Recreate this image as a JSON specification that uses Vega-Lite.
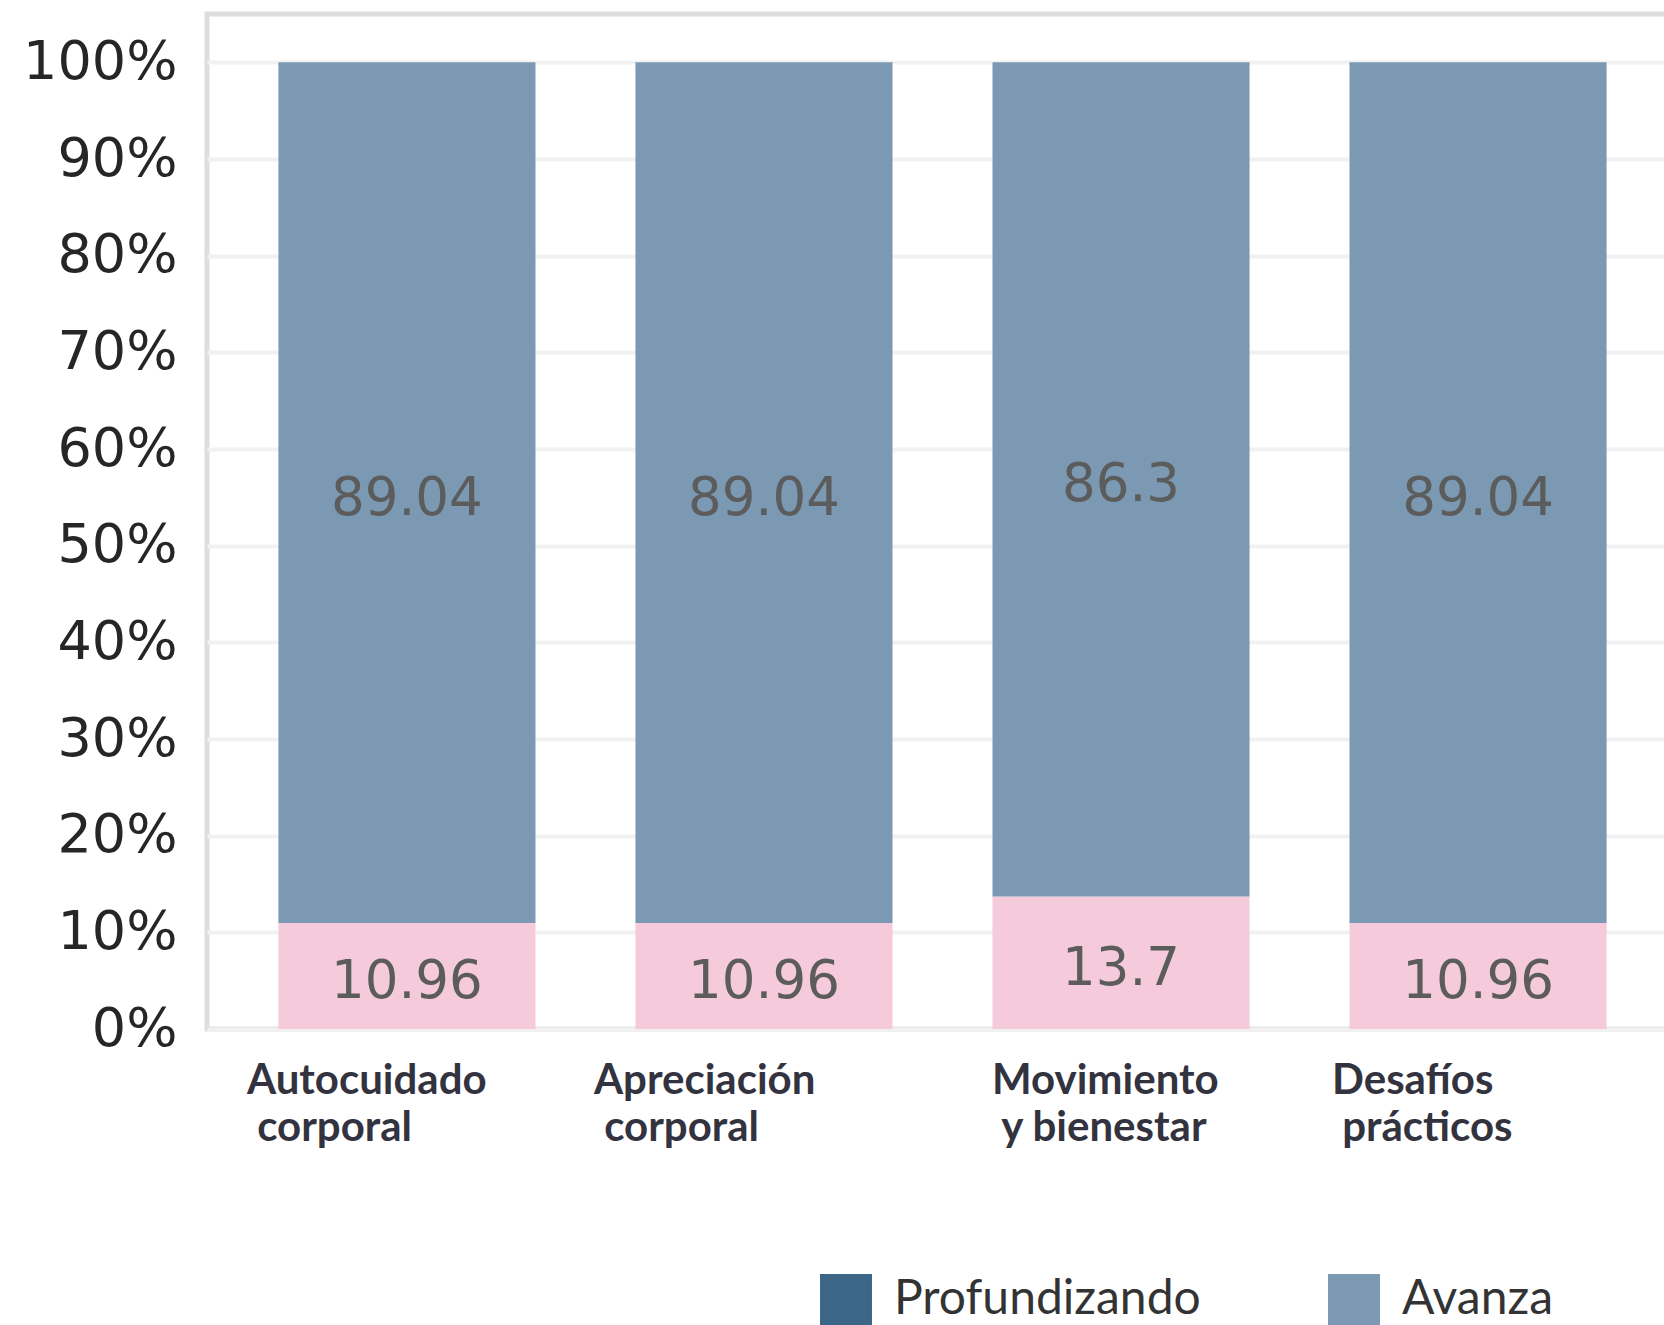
{
  "$schema": "https://vega.github.io/schema/vega-lite/v6.json",
  "width": 1471,
  "height": 1015,
  "padding": {"left": 22, "top": 14, "right": 0, "bottom": 0},
  "background": "white",
  "data": {
    "values": [
      {"categoria": "Autocuidado corporal", "nivel": "Inicia", "valor": 10.96},
      {"categoria": "Autocuidado corporal", "nivel": "Avanza", "valor": 89.04},
      {"categoria": "Apreciación corporal", "nivel": "Inicia", "valor": 10.96},
      {"categoria": "Apreciación corporal", "nivel": "Avanza", "valor": 89.04},
      {"categoria": "Movimiento y bienestar", "nivel": "Inicia", "valor": 13.7},
      {"categoria": "Movimiento y bienestar", "nivel": "Avanza", "valor": 86.3},
      {"categoria": "Desafíos prácticos", "nivel": "Inicia", "valor": 10.96},
      {"categoria": "Desafíos prácticos", "nivel": "Avanza", "valor": 89.04}
    ]
  },
  "transform": [
    {"stack": "valor", "groupby": ["categoria"], "sort": [{"field": "nivel", "order": "descending"}], "as": ["v0", "v1"]},
    {"calculate": "(datum.v0 + datum.v1) / 2", "as": "vm"}
  ],
  "encoding": {
    "x": {
      "field": "categoria",
      "type": "nominal",
      "sort": null,
      "scale": {"paddingInner": 0.28, "paddingOuter": 0.2},
      "axis": {
        "title": null,
        "labelAngle": 0,
        "ticks": false,
        "domain": false,
        "labelFont": "Lato",
        "labelFontWeight": "bold",
        "labelFontSize": 42,
        "labelLineHeight": 47,
        "labelColor": "#33333f",
        "labelPadding": 31,
        "labelLimit": 0,
        "labelAlign": "left",
        "labelExpr": "datum.label == 'Movimiento y bienestar' ? ['Movimiento', '\u200b\u00a0y bienestar'] : [split(datum.label, ' ')[0], '\u200b\u00a0' + split(datum.label, ' ')[1]]",
        "labelOffset": {
          "condition": [
            {"test": "datum.value == 'Autocuidado corporal'", "value": -160},
            {"test": "datum.value == 'Apreciación corporal'", "value": -170},
            {"test": "datum.value == 'Movimiento y bienestar'", "value": -129}
          ],
          "value": -146
        }
      }
    }
  },
  "layer": [
    {
      "mark": {"type": "bar"},
      "encoding": {
        "y": {
          "field": "v0",
          "type": "quantitative",
          "scale": {"domain": [0, 105], "nice": false},
          "axis": {
            "title": null,
            "values": [0, 10, 20, 30, 40, 50, 60, 70, 80, 90, 100],
            "labelExpr": "datum.value + '%'",
            "ticks": false,
            "domain": false,
            "labelFont": "DejaVu Sans",
            "labelFontSize": 54,
            "labelColor": "#262626",
            "labelPadding": 30,
            "grid": true,
            "gridColor": "#f1f1f1",
            "gridWidth": 4
          }
        },
        "y2": {"field": "v1"},
        "color": {
          "field": "nivel",
          "type": "nominal",
          "scale": {
            "domain": ["Profundizando", "Avanza", "Inicia"],
            "range": ["#3c6688", "#7b99b3", "#f5cbdb"]
          },
          "legend": {
            "title": null,
            "orient": "none",
            "direction": "horizontal",
            "values": ["Profundizando", "Avanza"],
            "legendX": 613,
            "legendY": 1260,
            "symbolType": "square",
            "symbolSize": 2700,
            "symbolStrokeWidth": 0,
            "symbolOpacity": 1,
            "labelFont": "Lato",
            "labelFontSize": 48,
            "labelColor": "#333333",
            "labelOffset": 22,
            "columnPadding": 127,
            "padding": 0,
            "labelLimit": 600
          }
        }
      }
    },
    {
      "mark": {"type": "text", "font": "DejaVu Sans", "fontSize": 53, "color": "#5c5c5c", "baseline": "middle", "dy": 6},
      "encoding": {
        "y": {"field": "vm", "type": "quantitative"},
        "text": {"field": "valor", "type": "quantitative"}
      }
    }
  ],
  "config": {
    "view": {"stroke": "#dedede", "strokeWidth": 5}
  }
}
